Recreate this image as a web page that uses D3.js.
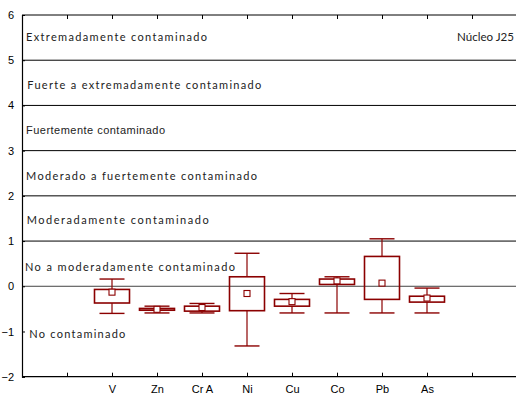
<!DOCTYPE html>
<html><head><meta charset="utf-8">
<script src="https://cdn.jsdelivr.net/npm/d3@7"></script>
<style>body{margin:0;background:#fff}svg{display:block}</style>
</head><body>
<svg id="c" width="516" height="395"></svg>
<script>
const categories = ["", "V", "Zn", "Cr A", "Ni", "Cu", "Co", "Pb", "As", ""];
const whiskerHigh = [null, 0.16, -0.44, -0.38, 0.73, -0.16, 0.21, 1.05, -0.04, null];
const boxHigh     = [null, -0.07, -0.49, -0.44, 0.21, -0.29, 0.16, 0.66, -0.22, null];
const boxLow      = [null, -0.37, -0.53, -0.55, -0.54, -0.44, 0.04, -0.29, -0.35, null];
const whiskerLow  = [null, -0.60, -0.59, -0.59, -1.32, -0.59, -0.59, -0.59, -0.59, null];
const means       = [null, -0.13, -0.51, -0.47, -0.16, -0.34, 0.12, 0.07, -0.26, null];
const yTicks = [-2, -1, 0, 1, 2, 3, 4, 5, 6];
const zoneLines = [0, 1, 2, 3, 4, 5];
const zoneLabels = ["Extremadamente contaminado", "Fuerte a extremadamente contaminado", "Fuertemente contaminado",
  "Moderado a fuertemente contaminado", "Moderadamente contaminado", "No a moderadamente contaminado", "No contaminado"];
const zoneLabelValues = [5.5, 4.45, 3.46, 2.43, 1.47, 0.42, -1.06];
const zoneLabelWidths = [181, 234, 139, 231, 182, 210, 96];
const coreLabel = "Núcleo J25";

const svg = d3.select("#c");
const L = 22, T = 15, B = 376.7;
const x = d3.scaleLinear().domain([0, 11]).range([L, L + 495]);
const y = d3.scaleLinear().domain([-2, 6]).range([B, T]);
const red = "#8b0000";
const gothic = "'Lato','Liberation Sans',sans-serif";
const arial = "'Liberation Sans',Arial,sans-serif";

// zone lines
svg.append("g").selectAll("line").data(zoneLines).join("line")
  .attr("x1", L).attr("x2", 516).attr("y1", d => y(d)).attr("y2", d => y(d))
  .attr("stroke", d => d === 0 ? "#444" : "#000").attr("stroke-width", 1);

// top border
svg.append("line").attr("x1", L).attr("x2", 516).attr("y1", T).attr("y2", T).attr("stroke", "#000");

// axes
const idx = d3.range(1, 11);
const xAxis = d3.axisBottom(x).tickValues(idx).tickSize(-4).tickPadding(9)
  .tickFormat(i => categories[i - 1]);
const gx = svg.append("g").attr("transform", `translate(0,${B})`).call(xAxis);
gx.select(".domain").attr("d", `M${L},0H516`).attr("stroke-width", 1.2);
gx.selectAll("text").attr("font-family", arial).attr("font-size", 11).attr("fill", "#000");

const xTop = d3.axisTop(x).tickValues(idx).tickSize(-4).tickFormat("");
const gt = svg.append("g").attr("transform", `translate(0,${T})`).call(xTop);
gt.select(".domain").remove();

const yAxis = d3.axisLeft(y).tickValues(yTicks).tickSize(-3).tickPadding(8).tickFormat(d3.format("d"));
const gy = svg.append("g").attr("transform", `translate(${L},0)`).call(yAxis);
gy.select(".domain").attr("stroke-width", 1.2);
gy.selectAll("text").attr("font-family", arial).attr("font-size", 11).attr("fill", "#000");

// zone labels
svg.append("g").selectAll("text").data(zoneLabels).join("text")
  .attr("x", (d, i) => [26, 27.3, 26, 26, 26.7, 25, 29.3][i])
  .attr("y", (d, i) => y(zoneLabelValues[i]))
  .attr("dy", "0.35em")
  .attr("font-family", (d, i) => i === 2 ? arial : gothic)
  .attr("font-size", 11)
  .attr("fill", "#222")
  .attr("textLength", (d, i) => zoneLabelWidths[i])
  .attr("lengthAdjust", "spacing")
  .text(d => d);

svg.append("text").attr("x", 457).attr("y", y(5.5)).attr("dy", "0.35em")
  .attr("font-family", gothic).attr("font-size", 11).attr("fill", "#222")
  .attr("textLength", 57).attr("lengthAdjust", "spacingAndGlyphs").text(coreLabel);

// boxes
const data = categories.map((c, i) => ({i: i + 1, c, wh: whiskerHigh[i], bh: boxHigh[i], bl: boxLow[i], wl: whiskerLow[i], m: means[i]}))
  .filter(d => d.c !== "");
const bw = 17.5, cw = 12.5;
const g = svg.append("g");
const bx = g.selectAll("g").data(data).join("g");
bx.append("line").attr("x1", d => x(d.i)).attr("x2", d => x(d.i))
  .attr("y1", d => y(d.wh)).attr("y2", d => y(d.bh)).attr("stroke", red).attr("stroke-width", 1.2);
bx.append("line").attr("x1", d => x(d.i)).attr("x2", d => x(d.i))
  .attr("y1", d => y(d.bl)).attr("y2", d => y(d.wl)).attr("stroke", red).attr("stroke-width", 1.2);
bx.append("line").attr("x1", d => x(d.i) - cw).attr("x2", d => x(d.i) + cw)
  .attr("y1", d => y(d.wh)).attr("y2", d => y(d.wh)).attr("stroke", red).attr("stroke-width", 1.4);
bx.append("line").attr("x1", d => x(d.i) - cw).attr("x2", d => x(d.i) + cw)
  .attr("y1", d => y(d.wl)).attr("y2", d => y(d.wl)).attr("stroke", red).attr("stroke-width", 1.4);
bx.append("rect").attr("x", d => x(d.i) - bw).attr("width", bw * 2)
  .attr("y", d => y(d.bh)).attr("height", d => y(d.bl) - y(d.bh))
  .attr("fill", "none").attr("stroke", red).attr("stroke-width", 1.6);
bx.append("rect").attr("x", d => x(d.i) - 3).attr("y", d => y(d.m) - 3)
  .attr("width", 6).attr("height", 6).attr("fill", "#fff").attr("stroke", red).attr("stroke-width", 1.1);
</script>
</body></html>
